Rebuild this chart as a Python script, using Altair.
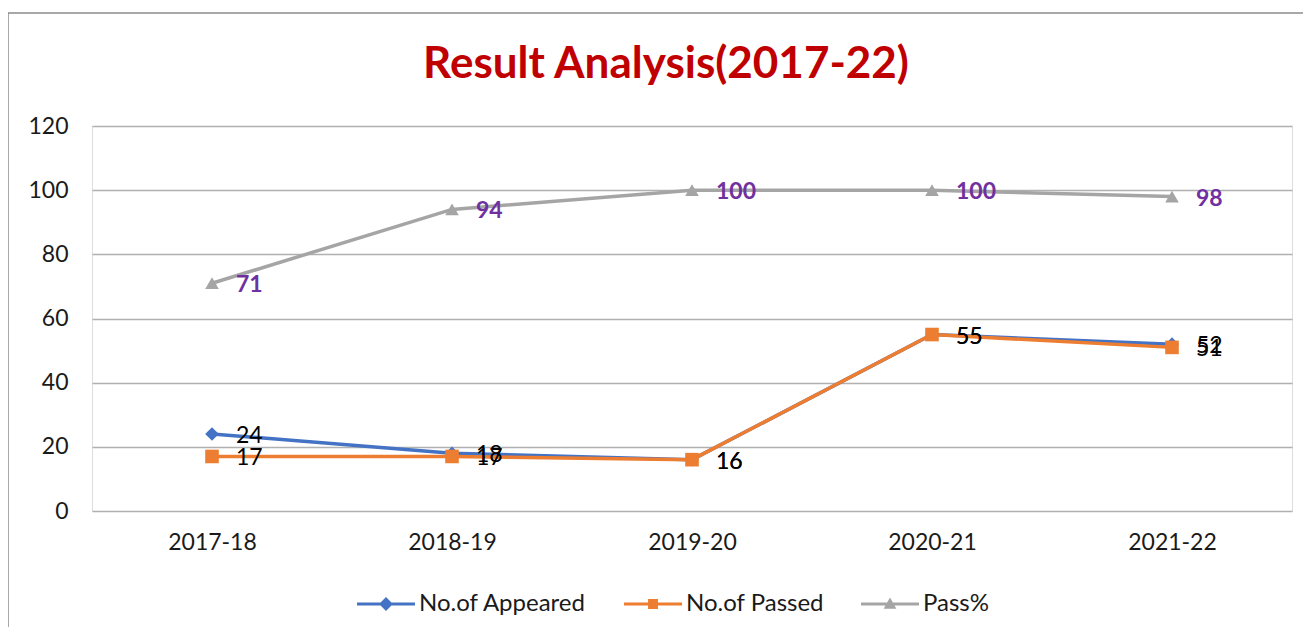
import altair as alt
import pandas as pd

years = ["2017-18", "2018-19", "2019-20", "2020-21", "2021-22"]
appeared = [24, 18, 16, 55, 52]
passed = [17, 17, 16, 55, 51]
pass_pct = [71, 94, 100, 100, 98]
series_names = ["No.of Appeared", "No.of Passed", "Pass%"]
colors = ["#4472C4", "#ED7D31", "#A5A5A5"]
shapes = ["diamond", "square", "triangle-up"]
y_ticks = [0, 20, 40, 60, 80, 100, 120]

rows = []
for s_idx, (name, vals) in enumerate(zip(series_names, [appeared, passed, pass_pct])):
    for y, v in zip(years, vals):
        rows.append({"year": y, "value": v, "series": name, "sidx": s_idx})
df = pd.DataFrame(rows)

FONT = "Lato"

# legend glyphs: a line with the series marker on it (filled paths)
legend_paths = [
    "M-1,-0.05H1V0.05H-1Z M0,-0.24L0.24,0L0,0.24L-0.24,0Z",
    "M-1,-0.05H1V0.05H-1Z M-0.17,-0.17H0.17V0.17H-0.17Z",
    "M-1,-0.05H1V0.05H-1Z M0,-0.22L0.22,0.16H-0.22Z",
]

legend = alt.Legend(
    title=None,
    orient="none",
    legendX=265,
    legendY=449,
    direction="horizontal",
    symbolSize=3364,
    symbolOpacity=1,
    symbolStrokeWidth=0,
    labelFontSize=24,
    labelFont=FONT,
    labelColor="#1a1a1a",
    labelOffset=4,
    labelLimit=400,
    columnPadding=37,
)

color_scale = alt.Scale(domain=series_names, range=colors)

x = alt.X(
    "year:N",
    sort=years,
    scale=alt.Scale(type="point", padding=0.5),
    axis=alt.Axis(
        title=None, labelAngle=0, domain=False, ticks=False, grid=False,
        labelFontSize=23, labelFont=FONT, labelColor="#1a1a1a", labelPadding=20,
    ),
)
y = alt.Y(
    "value:Q",
    scale=alt.Scale(domain=[0, 120], nice=False),
    axis=alt.Axis(
        title=None, values=y_ticks, domain=False, ticks=False, grid=True,
        gridColor="#B0B0B0", gridWidth=1.5,
        labelFontSize=23, labelFont=FONT, labelColor="#1a1a1a", labelPadding=24,
    ),
)

base = alt.Chart(df)

border = alt.Chart(pd.DataFrame({"a": [0]})).mark_rect(
    fill="transparent", stroke="#8C8C8C", strokeWidth=1.5
).encode(
    x=alt.value(-84), x2=alt.value(1240), y=alt.value(-113), y2=alt.value(560)
)

lines = base.mark_line(strokeWidth=3.5).encode(
    x=x, y=y,
    color=alt.Color("series:N", scale=color_scale, legend=None),
    order="sidx:Q",
)

points = base.mark_point(filled=True, size=185, opacity=1).encode(
    x=x, y=y,
    color=alt.Color("series:N", scale=color_scale, legend=None),
    shape=alt.Shape("series:N", scale=alt.Scale(domain=series_names, range=shapes), legend=None),
)

legend_layer = base.transform_filter("false").mark_point(filled=True, opacity=1).encode(
    x=x, y=y,
    color=alt.Color("series:N", scale=color_scale, legend=legend),
    shape=alt.Shape("series:N", scale=alt.Scale(domain=series_names, range=legend_paths), legend=legend),
)

count_labels = base.transform_filter(alt.datum.series != "Pass%").mark_text(
    align="left", baseline="middle", dx=24, dy=2, fontSize=23, font=FONT, color="#000000"
).encode(x=x, y=y, text="value:Q")

pct_labels = base.transform_filter(alt.datum.series == "Pass%").mark_text(
    align="left", baseline="middle", dx=24, dy=2, fontSize=23, font=FONT,
    fontWeight="bold", color="#7030A0"
).encode(x=x, y=y, text="value:Q")

chart = alt.layer(border, lines, points, legend_layer, count_labels, pct_labels).resolve_scale(
    shape="independent", color="independent"
).resolve_legend(
    shape="independent", color="independent"
).properties(
    width=1200,
    height=385,
    title=alt.TitleParams(
        text="Result Analysis(2017-22)",
        font=FONT, fontSize=44, fontWeight="bold", color="#C00000",
        anchor="middle", dx=-26, dy=155, baseline="alphabetic", offset=45,
    ),
    autosize=alt.AutoSizeParams(type="none"),
    padding={"left": 84, "top": 118, "right": 11, "bottom": 116},
).configure_view(stroke=None).configure(background="white")

chart.save("out.html", embed_options={"renderer": "svg", "actions": False})
